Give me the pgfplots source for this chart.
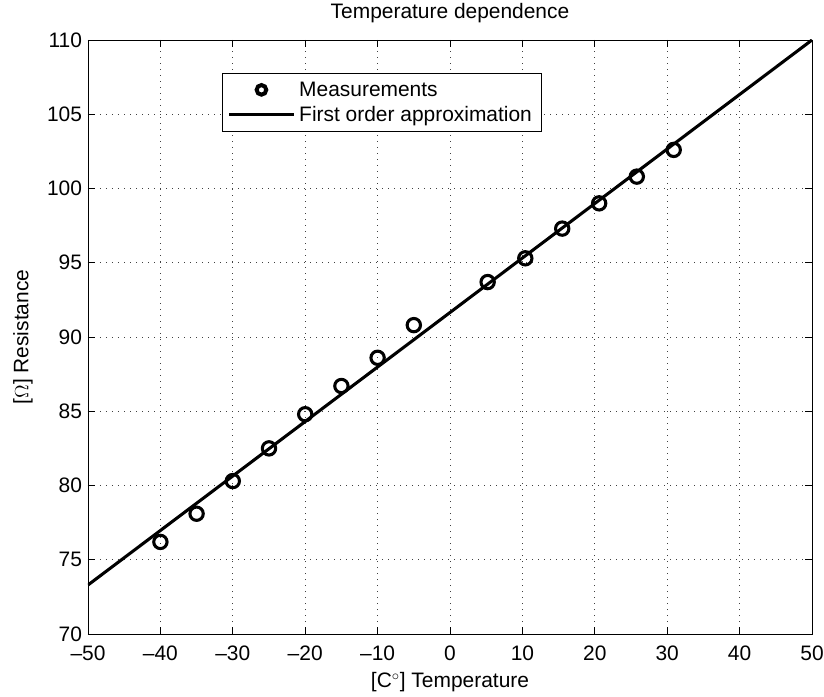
\documentclass[border=0pt]{standalone}
\usepackage{fontspec}
\setmainfont{Liberation Sans}
\usepackage{pgfplots}
\pgfplotsset{compat=1.18}
\pgfplotsset{
    markleg/.style={legend image code/.code={\draw[mark size=3.6pt,#1,line width=3pt] plot coordinates {(0.85cm,0cm)};}},
    lineleg/.style={legend image code/.code={\draw[#1] (0cm,0cm) -- (1.7cm,0cm);}},
}

\begin{document}
\begin{tikzpicture}[font=\fontsize{15.7}{18}\selectfont]
\begin{axis}[
    scale only axis,
    width=543pt, height=445.5pt,
    xmin=-50, xmax=50, ymin=70, ymax=110,
    xtick={-50,-40,...,50}, ytick={70,75,...,110},
    xticklabels={–50,–40,–30,–20,–10,0,10,20,30,40,50},
    tick align=inside, tick pos=both,
    major tick length=5pt,
    grid=major,
    grid style={black!75, dash pattern=on 0.7pt off 3.8pt, line width=0.7pt},
    axis line style={line width=0.6pt},
    tick style={black, line width=0.5pt},
    /pgf/number format/assume math mode=true,
    xticklabel style={yshift=-5.5pt},
    yticklabel style={xshift=-1pt},
    title={Temperature dependence},
    every axis title/.style={at={(axis description cs:0.5,1.0455)}, anchor=center},
    xlabel={[C$^{\circ}$] Temperature},
    every axis x label/.style={at={(axis description cs:0.5,-0.081)}, anchor=center},
    ylabel={[$\Omega$] Resistance},
    every axis y label/.style={at={(axis description cs:-0.0898,0.5)}, anchor=center, rotate=90},
    legend style={at={(0.185,0.944)}, anchor=north west, draw=black,
        line width=0.6pt, inner xsep=4pt, inner ysep=3pt,
        nodes={inner sep=3pt}},
    legend cell align=left,
]
\addplot[only marks, mark=o, mark size=5pt, line width=2.3pt, markleg]
    coordinates {
    (-40,76.2) (-35,78.1) (-30,80.3) (-25,82.5) (-20,84.8) (-15,86.7)
    (-10,88.6) (-5,90.8) (5.2,93.7) (10.4,95.3) (15.5,97.3) (20.6,99.0)
    (25.8,100.8) (30.9,102.6)};
\addlegendentry{Measurements}
\addplot[line width=2.3pt, lineleg]
    coordinates {(-50,73.3) (50,110)};
\addlegendentry{First order approximation}
\coordinate (ll) at (rel axis cs:0,0);
\coordinate (ur) at (rel axis cs:1,1);
\end{axis}
\pgfresetboundingbox
\path ([shift={(-66pt,-46.5pt)}]ll) rectangle ([shift={(9pt,30pt)}]ur);
\end{tikzpicture}
\end{document}
